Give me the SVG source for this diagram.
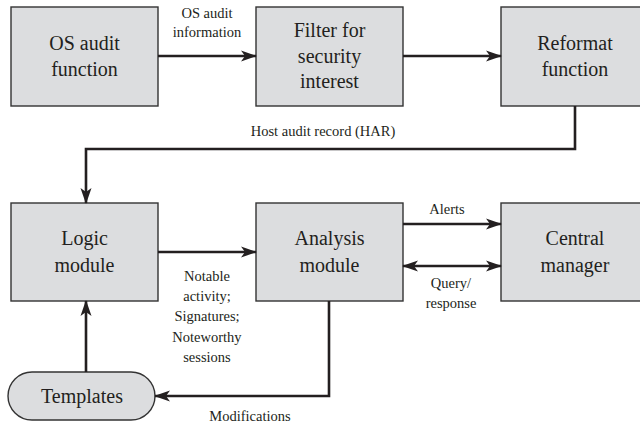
<svg xmlns="http://www.w3.org/2000/svg" width="640" height="427" viewBox="0 0 640 427">
<defs>
<marker id="ah" markerUnits="userSpaceOnUse" markerWidth="16" markerHeight="12" refX="15" refY="6" orient="auto-start-reverse" viewBox="0 0 16 12">
<path d="M0,0.5 L16,6 L0,11.5 L4,6 z" fill="#231f20"/>
</marker>
</defs>
<rect width="640" height="427" fill="#fff"/>
<g id="nodes" font-family="Liberation Serif" font-size="20" fill="#231f20" text-anchor="middle">
<g id="os-audit"><rect fill="#dcdddf" stroke="#333" stroke-width="1.4" x="11" y="7" width="147" height="99"/><text x="84.5" y="50" font-family="Liberation Serif">OS audit</text><text x="84.5" y="76" font-family="Liberation Serif">function</text></g>
<g id="filter"><rect fill="#dcdddf" stroke="#333" stroke-width="1.4" x="256" y="7" width="147" height="99"/><text x="329.5" y="37" font-family="Liberation Serif">Filter for</text><text x="329.5" y="63" font-family="Liberation Serif">security</text><text x="329.5" y="88" font-family="Liberation Serif">interest</text></g>
<g id="reformat"><rect fill="#dcdddf" stroke="#333" stroke-width="1.4" x="501" y="7" width="150" height="99"/><text x="575" y="50" font-family="Liberation Serif">Reformat</text><text x="575" y="76" font-family="Liberation Serif">function</text></g>
<g id="logic"><rect fill="#dcdddf" stroke="#333" stroke-width="1.4" x="11" y="203" width="147" height="98"/><text x="84.5" y="245" font-family="Liberation Serif">Logic</text><text x="84.5" y="272" font-family="Liberation Serif">module</text></g>
<g id="analysis"><rect fill="#dcdddf" stroke="#333" stroke-width="1.4" x="256" y="203" width="147" height="98"/><text x="329.5" y="245" font-family="Liberation Serif">Analysis</text><text x="329.5" y="272" font-family="Liberation Serif">module</text></g>
<g id="central"><rect fill="#dcdddf" stroke="#333" stroke-width="1.4" x="501" y="203" width="150" height="98"/><text x="575" y="245" font-family="Liberation Serif">Central</text><text x="575" y="272" font-family="Liberation Serif">manager</text></g>
<g id="templates"><rect fill="#dcdddf" stroke="#333" stroke-width="1.4" x="8" y="372" width="147" height="48" rx="24" ry="24"/><text x="82" y="403" font-family="Liberation Serif">Templates</text></g>
</g>
<g id="connectors" fill="none" stroke="#231f20" stroke-width="2.6">
<path d="M158,56 H256" marker-end="url(#ah)"/>
<path d="M403,56 H501" marker-end="url(#ah)"/>
<path d="M575,106 V149 H86 V203" marker-end="url(#ah)"/>
<path d="M158,252 H256" marker-end="url(#ah)"/>
<path d="M403,224 H501" marker-end="url(#ah)"/>
<path d="M403,266 H501" marker-start="url(#ah)" marker-end="url(#ah)"/>
<path d="M86,372 V301" marker-end="url(#ah)"/>
<path d="M329,301 V396 H155" marker-end="url(#ah)"/>
</g>
<g id="labels" font-family="Liberation Serif" font-size="14.5" fill="#231f20" text-anchor="middle">
<text x="207" y="18" font-family="Liberation Serif">OS audit</text>
<text x="207" y="37" font-family="Liberation Serif">information</text>
<text x="323" y="136" font-family="Liberation Serif">Host audit record (HAR)</text>
<text x="447" y="214" font-family="Liberation Serif">Alerts</text>
<text x="451" y="288" font-family="Liberation Serif">Query/</text>
<text x="451" y="308" font-family="Liberation Serif">response</text>
<text x="207" y="281" font-family="Liberation Serif">Notable</text>
<text x="207" y="301" font-family="Liberation Serif">activity;</text>
<text x="207" y="321" font-family="Liberation Serif">Signatures;</text>
<text x="207" y="342" font-family="Liberation Serif">Noteworthy</text>
<text x="207" y="362" font-family="Liberation Serif">sessions</text>
<text x="250" y="421" font-family="Liberation Serif">Modifications</text>
</g>
</svg>
